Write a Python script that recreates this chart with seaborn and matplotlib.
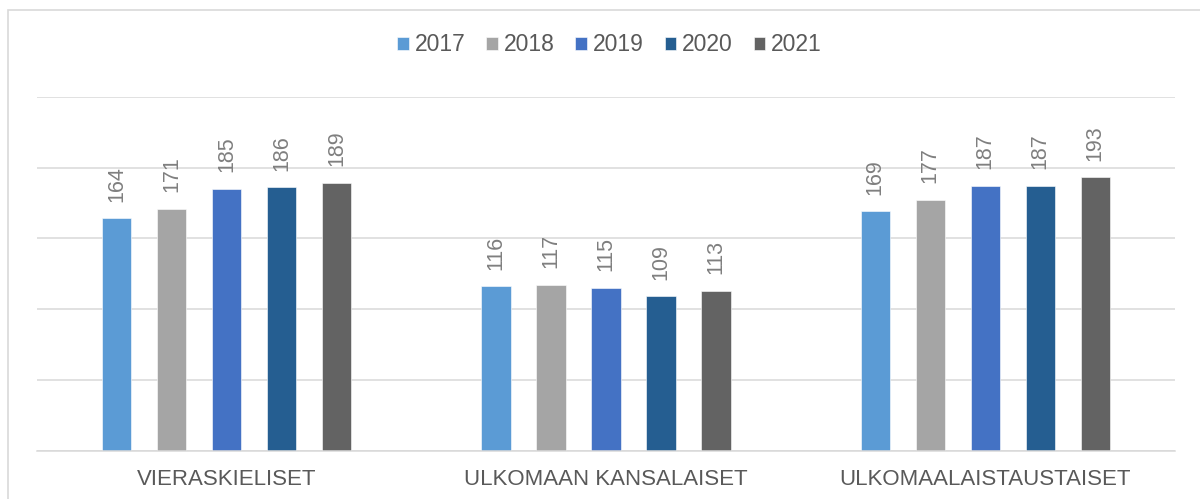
import pandas as pd
import numpy as np
import matplotlib.pyplot as plt
import seaborn as sns
from matplotlib.patches import Rectangle

# Data
kategoriat = ['VIERASKIELISET', 'ULKOMAAN KANSALAISET', 'ULKOMAALAISTAUSTAISET']
vuodet = ['2017', '2018', '2019', '2020', '2021']
vieraskieliset = [164, 171, 185, 186, 189]
kansalaiset = [116, 117, 115, 109, 113]
taustaiset = [169, 177, 187, 187, 193]
varit = ['#5B9BD5', '#A5A5A5', '#4472C4', '#255E91', '#636363']

rows = []
for kat, arvot in zip(kategoriat, [vieraskieliset, kansalaiset, taustaiset]):
    for v, a in zip(vuodet, arvot):
        rows.append({'Kategoria': kat, 'Vuosi': v, 'Arvo': a})
df = pd.DataFrame(rows)

sns.set_style('white')
plt.rcParams['font.family'] = ['Liberation Sans', 'DejaVu Sans']

fig = plt.figure(figsize=(12, 4.99), dpi=100)
ax = fig.add_axes([0.0308, 0.0968, 0.9483, 0.7094])

sns.barplot(data=df, x='Kategoria', y='Arvo', hue='Vuosi', order=kategoriat,
            hue_order=vuodet, palette=varit, width=0.725, gap=0.464,
            saturation=1, edgecolor='white', linewidth=0.4, ax=ax)

# Arvot pylväiden päälle
for cont in ax.containers:
    ax.bar_label(cont, padding=12, rotation=90, fontsize=15.5, color='#7f7f7f')

ax.set_ylim(0, 250)
ax.set_xlim(-0.5, 2.5)
ax.set_yticks(np.arange(0, 251, 50))
ax.yaxis.grid(True, color='#d9d9d9', linewidth=1.1)
ax.set_axisbelow(True)
ax.tick_params(axis='y', left=False, labelleft=False)
ax.tick_params(axis='x', bottom=False, labelsize=16, colors='#595959', pad=10)
ax.set_xlabel('')
ax.set_ylabel('')
for s in ['top', 'right', 'left']:
    ax.spines[s].set_visible(False)
ax.spines['bottom'].set_color('#d9d9d9')
ax.spines['bottom'].set_linewidth(1.1)

handles, labels = ax.get_legend_handles_labels()
ax.legend(handles, labels, loc='center', bbox_to_anchor=(0.508, 0.91),
          bbox_transform=fig.transFigure, ncol=5, frameon=False,
          fontsize=16.5, labelcolor='#595959', handlelength=0.52,
          handleheight=0.52, handletextpad=0.25, columnspacing=0.9)

# Kehys
fig.patches.append(Rectangle((7.7 / 1200, -0.1), 1.2, 1.1 - 9.7 / 499,
                             transform=fig.transFigure, fill=False,
                             edgecolor='#d9d9d9', linewidth=1.2))

fig.savefig('out.png', dpi=100)
